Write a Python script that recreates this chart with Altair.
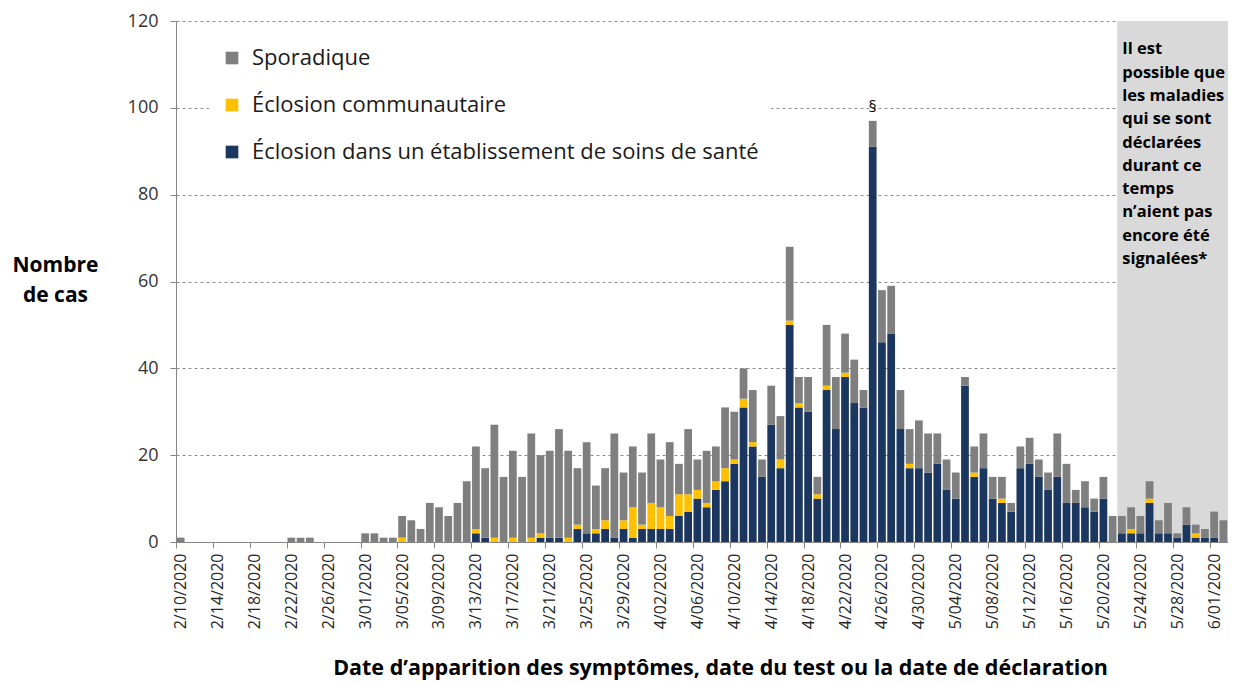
import altair as alt
import pandas as pd

# ---- data (day index 0 = 2/10/2020, 114 days up to 6/02/2020) ----
cat_spor = "Sporadique"
cat_comm = "Éclosion communautaire"
cat_sante = "Éclosion dans un établissement de soins de santé"

sporadique = [
    1, 0, 0, 0, 0, 0, 0, 0, 0, 0,
    0, 0, 1, 1, 1, 0, 0, 0, 0, 0,
    2, 2, 1, 1, 5, 5, 3, 9, 8, 6,
    9, 14, 19, 16, 26, 15, 20, 15, 24, 18,
    20, 25, 20, 13, 21, 10, 12, 24, 11, 14,
    12, 16, 11, 17, 7, 15, 7, 12, 8, 14,
    11, 7, 12, 4, 9, 10, 17, 6, 8, 4,
    14, 12, 9, 10, 4, 6, 12, 11, 9, 8,
    11, 9, 7, 7, 6, 2, 6, 8, 5, 5,
    2, 5, 6, 4, 4, 10, 9, 3, 6, 3,
    5, 6, 4, 5, 4, 4, 3, 7, 1, 4,
    2, 2, 6, 5,
]
communautaire = [
    0, 0, 0, 0, 0, 0, 0, 0, 0, 0,
    0, 0, 0, 0, 0, 0, 0, 0, 0, 0,
    0, 0, 0, 0, 1, 0, 0, 0, 0, 0,
    0, 0, 1, 0, 1, 0, 1, 0, 1, 1,
    0, 0, 1, 1, 0, 1, 2, 0, 2, 7,
    1, 6, 5, 3, 5, 4, 2, 1, 2, 3,
    1, 2, 1, 0, 0, 2, 1, 1, 0, 1,
    1, 0, 1, 0, 0, 0, 0, 0, 0, 1,
    0, 0, 0, 0, 0, 0, 1, 0, 0, 1,
    0, 0, 0, 0, 0, 0, 0, 0, 0, 0,
    0, 0, 0, 1, 0, 1, 0, 0, 0, 0,
    1, 0, 0, 0,
]
sante = [
    0, 0, 0, 0, 0, 0, 0, 0, 0, 0,
    0, 0, 0, 0, 0, 0, 0, 0, 0, 0,
    0, 0, 0, 0, 0, 0, 0, 0, 0, 0,
    0, 0, 2, 1, 0, 0, 0, 0, 0, 1,
    1, 1, 0, 3, 2, 2, 3, 1, 3, 1,
    3, 3, 3, 3, 6, 7, 10, 8, 12, 14,
    18, 31, 22, 15, 27, 17, 50, 31, 30, 10,
    35, 26, 38, 32, 31, 91, 46, 48, 26, 17,
    17, 16, 18, 12, 10, 36, 15, 17, 10, 9,
    7, 17, 18, 15, 12, 15, 9, 9, 8, 7,
    10, 0, 2, 2, 2, 9, 2, 2, 1, 4,
    1, 1, 1, 0,
]
n_days = len(sante)
shade_from = 101.5          # from 5/22/2020 onwards
peak_day = 75               # 4/25/2020
peak_total = 97
note = ("Il est\npossible que\nles maladies\nqui se sont\ndéclarées\n"
        "durant ce\ntemps\nn’aient pas\nencore été\nsignalées*")

cats = [cat_spor, cat_comm, cat_sante]
colors = ["#7f7f7f", "#ffc000", "#1b375f"]

rows = []
for i in range(n_days):
    for cat, vals, o in [(cat_sante, sante, 0), (cat_comm, communautaire, 1), (cat_spor, sporadique, 2)]:
        rows.append({"jour": i, "cat": cat, "n": vals[i], "ordre": o})
df = pd.DataFrame(rows)

FONT = "Open Sans"
xscale = alt.Scale(domain=[-0.5, n_days - 0.5], nice=False, zero=False)
yscale = alt.Scale(domain=[0, 120], nice=False)

x_axis = alt.Axis(
    values=[i - 0.5 for i in range(0, 113, 4)],
    labelExpr="timeFormat(datetime(2020, 1, 10 + datum.value + 0.5), '%-m/%d/%Y')",
    labelAngle=-90, labelOffset=4.6, labelFontSize=16, labelPadding=5,
    labelOverlap=False, labelBound=False, labelFlush=False, labelSeparation=0,
    labelColor="#262626", grid=False, tickSize=6, tickColor="#868686",
    domainColor="#868686",
    title="Date d’apparition des symptômes, date du test ou la date de déclaration",
    titleFontSize=21.5, titleFontWeight="bold", titleColor="#000000",
    titleX=544, titleY=126, titleAlign="center", titleBaseline="middle",
)
y_axis = alt.Axis(
    values=[0, 20, 40, 60, 80, 100, 120], grid=True, gridDash=[3, 3],
    gridColor="#8c8c8c", gridWidth=1, domainColor="#868686", tickColor="#868686",
    tickSize=6, labelFontSize=18, labelPadding=12, labelColor="#333333",
    title=["Nombre", "de cas"], titleAngle=0, titleX=-121, titleY=244,
    titleAlign="center", titleBaseline="middle", titleFontSize=21,
    titleFontWeight="bold", titleLineHeight=30, titleColor="#000000",
)

shade = alt.Chart(pd.DataFrame({"a": [shade_from], "b": [n_days - 0.5], "lo": [0], "hi": [120]})).mark_rect(
    color="#d9d9d9"
).encode(
    x=alt.X("a:Q", scale=xscale, axis=x_axis),
    x2="b:Q",
    y=alt.Y("lo:Q", scale=yscale, axis=y_axis),
    y2="hi:Q",
)

bars = alt.Chart(df).transform_stack(
    stack="n", as_=["y0", "y1"], groupby=["jour"], sort=[alt.SortField("ordre", order="ascending")]
).transform_calculate(
    xa="datum.jour - 0.42", xb="datum.jour + 0.42"
).mark_bar().encode(
    x=alt.X("xa:Q", scale=xscale, axis=x_axis),
    x2="xb:Q",
    y=alt.Y("y0:Q", scale=yscale, axis=y_axis),
    y2="y1:Q",
    color=alt.Color(
        "cat:N",
        scale=alt.Scale(domain=cats, range=colors),
        legend=alt.Legend(
            orient="none", legendX=33, legendY=14, title=None, fillColor="white",
            padding=12, rowPadding=25, labelFontSize=22, labelFont=FONT,
            labelColor="#1a1a1a", symbolType="square", symbolSize=160,
            symbolStrokeWidth=0, symbolOpacity=1, labelOffset=9, labelLimit=800,
        ),
    ),
)

note_layer = alt.Chart(pd.DataFrame({"x": [shade_from], "y": [115.3], "t": [note]})).mark_text(
    align="left", baseline="top", lineBreak="\n", lineHeight=23.3, fontSize=16.5,
    fontWeight="bold", font=FONT, color="#000000", dx=5,
).encode(
    x=alt.X("x:Q", scale=xscale, axis=x_axis),
    y=alt.Y("y:Q", scale=yscale, axis=y_axis),
    text="t:N",
)

peak_layer = alt.Chart(pd.DataFrame({"x": [peak_day], "y": [peak_total], "t": ["§"]})).mark_text(
    align="center", baseline="bottom", fontSize=16, font=FONT, color="#000000", dy=-6,
).encode(
    x=alt.X("x:Q", scale=xscale, axis=x_axis),
    y=alt.Y("y:Q", scale=yscale, axis=y_axis),
    text="t:N",
)

chart = alt.layer(shade, bars, note_layer, peak_layer).properties(
    width=1052, height=521,
    autosize=alt.AutoSizeParams(type="none"),
    padding={"left": 168, "top": 13, "right": 0, "bottom": 140},
).configure(
    font=FONT,
).configure_axisX(
    labelOverlap=False,
).configure_view(
    stroke=None,
)

chart.save("out.html", embed_options={"renderer": "svg", "actions": False})
